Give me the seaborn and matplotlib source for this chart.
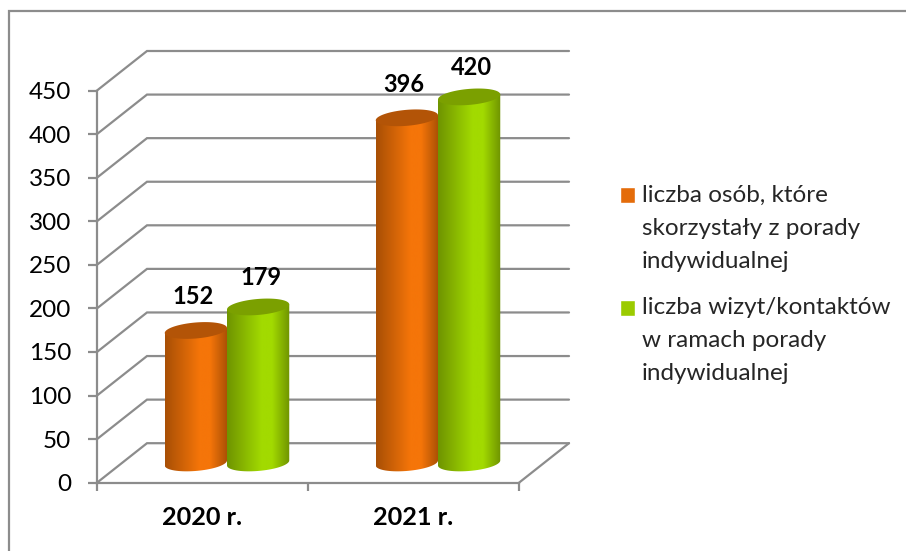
import matplotlib
matplotlib.use('Agg')
import matplotlib.pyplot as plt
from matplotlib.colors import LinearSegmentedColormap
from matplotlib.patches import PathPatch, Rectangle
from matplotlib.path import Path
import numpy as np
import pandas as pd
import seaborn as sns

# dane
lata = ['2020 r.', '2021 r.']
osoby = [152, 396]
wizyty = [179, 420]
nazwa_osoby = 'liczba osób, które\nskorzystały z porady\nindywidualnej'
nazwa_wizyty = 'liczba wizyt/kontaktów\nw ramach porady\nindywidualnej'
ticki_y = [0, 50, 100, 150, 200, 250, 300, 350, 400, 450]

SZARY = '#8c8c8c'
W, H = 906, 551

sns.set_theme(style='white')
plt.rcParams['font.family'] = ['Lato', 'DejaVu Sans']

df = pd.DataFrame({
    'rok': lata * 2,
    'wartosc': osoby + wizyty,
    'seria': [nazwa_osoby] * 2 + [nazwa_wizyty] * 2,
})

fig = plt.figure(figsize=(W / 100, H / 100), dpi=100)
# przednia plaszczyzna wykresu 3D
ax = fig.add_axes([97 / W, 1 - 482.7 / H, (519 - 97) / W, (482.7 - 90.5) / H])
sns.barplot(data=df, x='rok', y='wartosc', hue='seria',
            palette=['#e46c0a', '#9bcb00'], width=0.59, gap=0,
            saturation=1, ax=ax)
ax.set_xlim(-0.5, 1.5)
ax.set_ylim(0, 450)
ax.set_xlabel('')
ax.set_ylabel('')

# skala: piksele na jednostke danych
px_x = 211
px_y = 392.2 / 450
# przesuniecie glebi w jednostkach danych
dx = 50 / px_x
dy = 39.5 / px_y


def gradient(kolor_ciemny, kolor_jasny):
    return LinearSegmentedColormap.from_list(
        'g', [(0, kolor_ciemny), (0.55, kolor_jasny), (0.72, kolor_jasny), (1, kolor_ciemny)])


# tylna sciana: siatka i krawedzie
for t in ticki_y:
    ax.plot([-0.5, -0.5 + dx, 1.5 + dx], [t, t + dy, t + dy], color=SZARY, lw=1.6,
            clip_on=False, zorder=1, solid_joinstyle='miter')
ax.plot([1.5, 1.5 + dx], [0, dy], color=SZARY, lw=1.6, clip_on=False, zorder=1)

style = [('#a84f05', '#f57509', '#b35407'), ('#6f9400', '#a2da00', '#7ba000')]
# przesuniecia etykiet w pikselach dla kazdej serii
etyk_x = [-3, 2.5]
etyk_y = [14, 10]
slupki = [p for p in ax.patches if p.get_height() > 0]
n = len(lata)
theta = np.linspace(0, 2 * np.pi, 80)
# kolejnosc: od lewej do prawej, zielony przykrywa pomaranczowy
for i, p in enumerate(slupki):
    s = i // n
    p.set_visible(False)
    x0 = p.get_x() + dx / 2 - 0.5 / px_x
    szer = p.get_width()
    h = p.get_height()
    y0 = dy / 2
    a = szer / 2
    b = 8 / px_y
    tilt = 2.5 / px_y
    xc = x0 + a
    ex = xc + a * np.cos(theta)
    ey = b * np.sin(theta) + tilt * np.cos(theta)
    # plaszcz walca
    dolna = np.linspace(0, np.pi, 40)
    gorna = np.linspace(np.pi, 0, 40)
    xs = np.r_[xc + a * np.cos(-dolna), xc + a * np.cos(gorna)]
    ys = np.r_[y0 - b * np.sin(dolna) + tilt * np.cos(dolna),
               y0 + h + tilt * np.cos(gorna)]
    plaszcz = PathPatch(Path(np.c_[xs, ys]), transform=ax.transData, fc='none', ec='none')
    ax.add_patch(plaszcz)
    cmap = gradient(style[s][0], style[s][1])
    im = ax.imshow(np.linspace(0, 1, 128).reshape(1, -1), cmap=cmap, aspect='auto',
                   extent=[x0, x0 + szer, y0 - 2 * b, y0 + h + 2 * b],
                   zorder=3 + s * 0.1 + (p.get_x() > 0.5), clip_on=True)
    im.set_clip_path(plaszcz)
    ax.fill(ex, y0 + h + ey, color=style[s][2], lw=0,
            zorder=3.05 + s * 0.1 + (p.get_x() > 0.5), clip_on=False)
    ax.text(xc + etyk_x[s] / px_x, y0 + h + b + etyk_y[s] / px_y, f'{h:.0f}',
            ha='center', va='bottom', fontsize=17, fontweight='bold', color='black', zorder=6)

ax.set_xlim(-0.5, 1.5)
ax.set_ylim(0, 450)
ax.set_yticks(ticki_y)
ax.set_xticks([-0.5, 0.5, 1.5], labels=['', '', ''])
for x, r in enumerate(lata):
    ax.text(x, -40, r, ha='center', va='center', fontsize=18.2, fontweight='bold', color='black')
ax.patch.set_alpha(0)
ax.tick_params(axis='y', length=6.5, width=1.6, color=SZARY, labelsize=17.5, pad=12,
               labelcolor='black', left=True)
ax.tick_params(axis='x', length=5.5, width=1.6, color=SZARY, bottom=True)
sns.despine(ax=ax, top=True, right=True)
for b in ['left', 'bottom']:
    ax.spines[b].set_color(SZARY)
    ax.spines[b].set_linewidth(1.6)

uchwyty, etykiety = ax.get_legend_handles_labels()
leg = ax.legend(uchwyty, etykiety, loc='upper left', bbox_to_anchor=(620 / W, 1 - 185 / H),
                bbox_transform=fig.transFigure, frameon=False, fontsize=17.5, handlelength=0.62,
                handleheight=0.62, handletextpad=0.28, labelspacing=1.05, borderpad=0,
                borderaxespad=0)
for t in leg.get_texts():
    t.set_linespacing(1.7)
# znacznik legendy na wysokosci pierwszego wiersza
for uch in leg.get_patches():
    uch.set_y(uch.get_y() + 33 * 0.72)

# ramka wykresu
fig.add_artist(Rectangle((8.5 / W, -0.01), 1, 1 - 10.5 / H + 0.01, transform=fig.transFigure,
                         fc='none', ec=SZARY, lw=1.6, zorder=0))
fig.savefig('out.png', dpi=100)
